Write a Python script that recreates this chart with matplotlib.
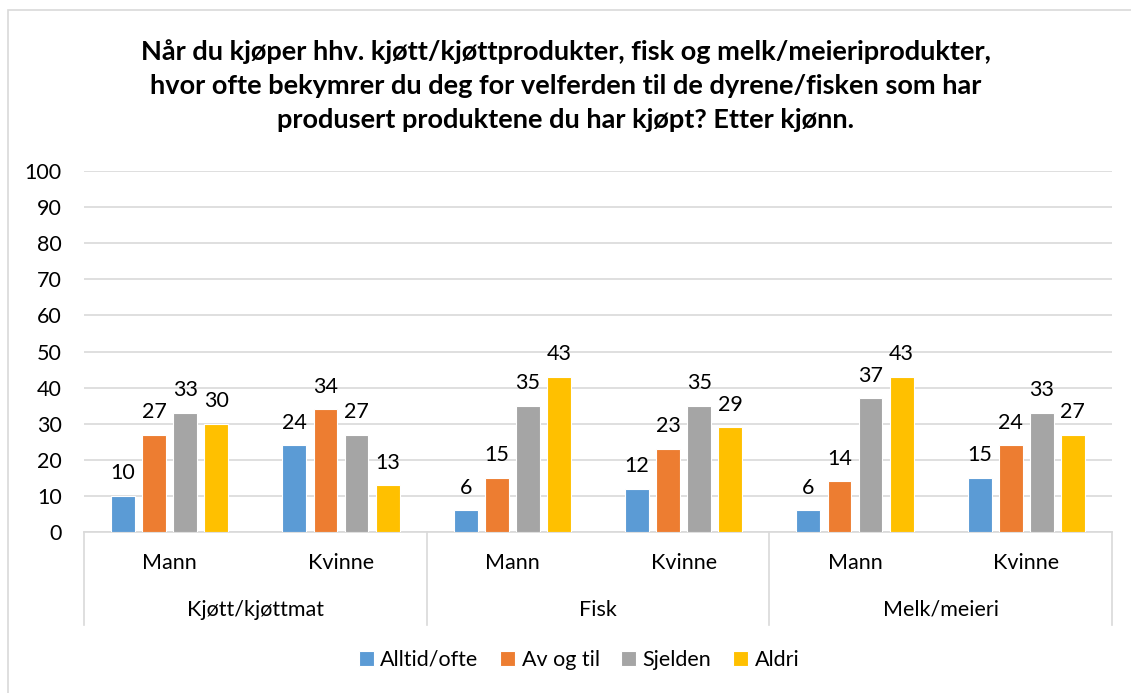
import numpy as np
import matplotlib.pyplot as plt
from matplotlib.patches import Rectangle
from matplotlib.lines import Line2D

plt.rcParams['font.family'] = ['Lato', 'DejaVu Sans']

# data
groups = ["Kjøtt/kjøttmat", "Fisk", "Melk/meieri"]
genders = ["Mann", "Kvinne"]
series = ["Alltid/ofte", "Av og til", "Sjelden", "Aldri"]
alltid = [10, 24, 6, 12, 6, 15]
av_og_til = [27, 34, 15, 23, 14, 24]
sjelden = [33, 27, 35, 35, 37, 33]
aldri = [30, 13, 43, 29, 43, 27]
colors = ["#5B9BD5", "#ED7D31", "#A5A5A5", "#FFC000"]
title = ("Når du kjøper hhv. kjøtt/kjøttprodukter, fisk og melk/meieriprodukter,\n"
         "hvor ofte bekymrer du deg for velferden til de dyrene/fisken som har\n"
         "produsert produktene du har kjøpt? Etter kjønn.")

fs = 15.5

fig = plt.figure(figsize=(11.31, 6.93), dpi=100)
ax = fig.add_axes([84 / 1131, 1 - 532 / 693, 1028 / 1131, 361 / 693])

x = np.arange(6)
width = 0.14
pitch = 0.181
for i, (vals, col) in enumerate(zip([alltid, av_og_til, sjelden, aldri], colors)):
    pos = x + (i - 1.5) * pitch
    ax.bar(pos, vals, width, color=col, edgecolor="white", linewidth=0.8,
           label=series[i], zorder=3)
    for p, v in zip(pos, vals):
        ax.annotate(str(v), (p, v), xytext=(0, 9), textcoords="offset points",
                    ha="center", va="bottom", fontsize=fs)

ax.set_xlim(-0.5, 5.5)
ax.set_ylim(0, 100)
ax.set_yticks(range(0, 101, 10))
ax.tick_params(axis="y", length=0, labelsize=fs, pad=16)
ax.set_xticks([])
ax.grid(axis="y", color="#D9D9D9", linewidth=1.2, zorder=0)
for s in ["top", "right", "left"]:
    ax.spines[s].set_visible(False)
ax.spines["bottom"].set_color("#D9D9D9")
ax.spines["bottom"].set_linewidth(1.2)

# category axis labels
trans = ax.get_xaxis_transform()
for k in range(6):
    ax.text(k, -0.085, genders[k % 2], transform=trans, ha="center", va="center", fontsize=fs)
for g in range(3):
    ax.text(2 * g + 0.5, -0.215, groups[g], transform=trans, ha="center", va="center", fontsize=fs)
for xs in [-0.5, 1.5, 3.5, 5.5]:
    ax.add_line(Line2D([xs, xs], [0, -0.258], transform=trans, color="#D9D9D9",
                       linewidth=1.2, clip_on=False))

fig.text(0.5, 1 - 86 / 693, title, ha="center", va="center", fontsize=19.5,
         fontweight="bold", linespacing=1.5)

# outer chart border
fig.patches.append(Rectangle((7.5 / 1131, -0.05), 1.2, 1 - 10.5 / 693 + 0.05,
                             transform=fig.transFigure, fill=False,
                             edgecolor="#D9D9D9", linewidth=1.2))

handles, labels = ax.get_legend_handles_labels()
fig.legend(handles, labels, loc="center", bbox_to_anchor=(0.512, 1 - 660 / 693),
           ncol=4, frameon=False, fontsize=fs, handlelength=0.7, handleheight=0.7,
           handletextpad=0.3, columnspacing=1.0)

fig.savefig("out.png", dpi=100)
